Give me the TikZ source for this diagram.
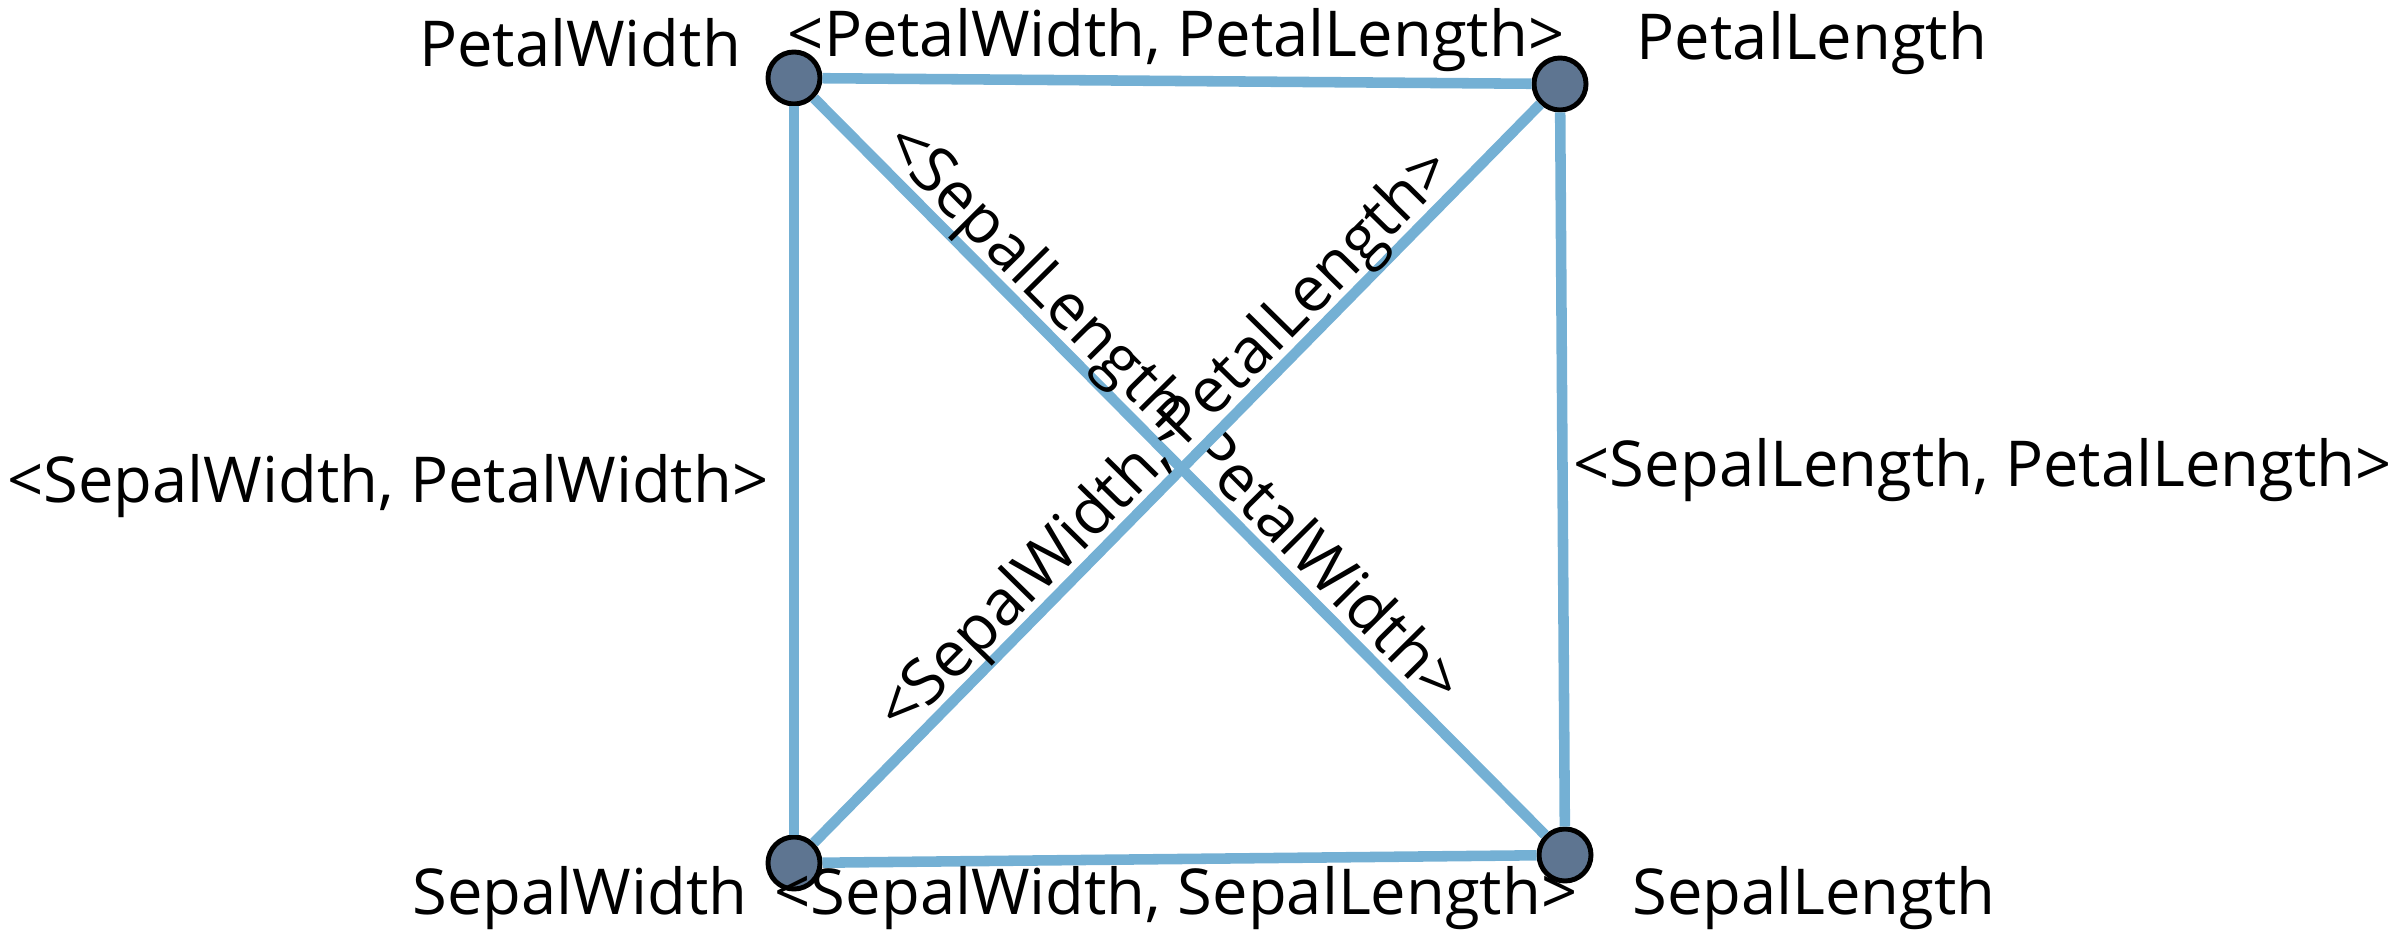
\documentclass[tikz,border=0pt]{standalone}
\usepackage{fontspec}
\setmainfont{Open Sans}
\usepackage{tikz}
\usetikzlibrary{positioning,calc}
\usepackage{xcolor}
\definecolor{edgeblue}{RGB}{116,176,212}
\definecolor{vertexgray}{RGB}{94,117,145}

\begin{document}
\begin{tikzpicture}[
      x=0.01cm, y=-0.01cm,
      vertex/.style={
        circle, draw=black, line width=1.4pt,
        fill=vertexgray, minimum size=0.52cm, inner sep=0pt
      },
      edge/.style={line width=3pt, edgeblue},
      label/.style={font=\fontsize{18}{21}\selectfont, text=black, inner sep=2pt},
      onedge/.style={label, sloped, anchor=base, yshift=3.5pt}
    ]
      \useasboundingbox (0,0) rectangle (2394,934);
      % vertices
      \node[vertex] (pw) at (794,78) {};
      \node[vertex] (pl) at (1560,84) {};
      \node[vertex] (sw) at (794,863) {};
      \node[vertex] (sl) at (1565,855) {};
      % edges
      \draw[edge] (pw) -- (pl);
      \draw[edge] (sw) -- (sl);
      \draw[edge] (pw) -- (sw);
      \draw[edge] (pl) -- (sl);
      \draw[edge] (pw) -- node[onedge, pos=0.46] {<SepalLength, PetalWidth>} (sl);
      \draw[edge] (sw) -- node[onedge, pos=0.515] {<SepalWidth, PetalLength>} (pl);
      % vertex names
      \node[label] (pwname) at (580,43) {PetalWidth};
      \node[label] (plname) at (1812,43) {PetalLength};
      \node[label] (swname) at (580,898) {SepalWidth};
      \node[label] (slname) at (1814,898) {SepalLength};
      % edge names
      \node[label] (toplab) at (1176,40) {<PetalWidth, PetalLength>};
      \node[label] (botlab) at (1176,898) {<SepalWidth, SepalLength>};
      \node[label, anchor=east] (leftlab) at (776,486) {<SepalWidth, PetalWidth>};
      \node[label, anchor=west] (rightlab) at (1566,470) {<SepalLength, PetalLength>};
    \end{tikzpicture}
\end{document}
